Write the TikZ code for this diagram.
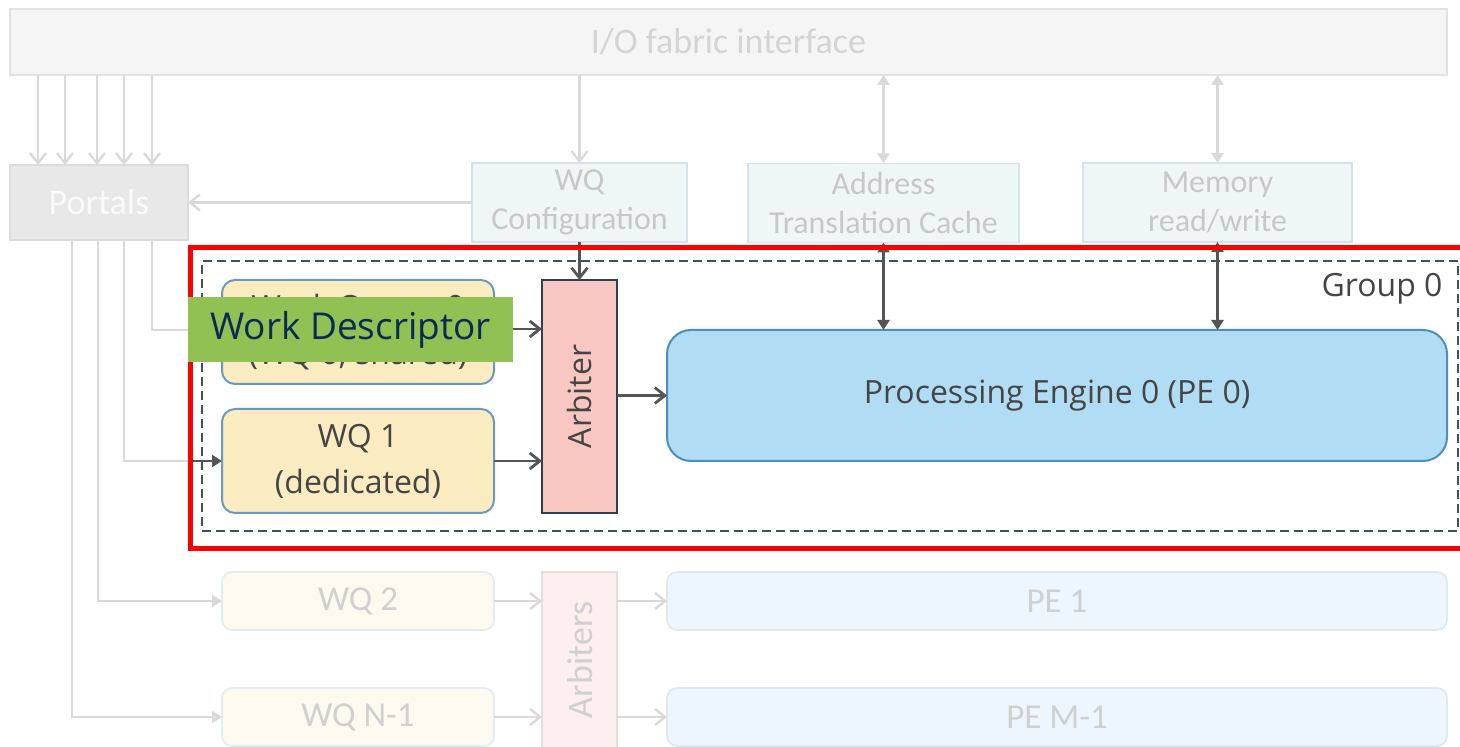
\documentclass[tikz,border=0pt]{standalone}
\usepackage{fontspec}
\setmainfont{Carlito}
\newfontfamily\osans{Open Sans}
\usetikzlibrary{arrows.meta,calc}

\definecolor{ioFill}{HTML}{F5F5F5}
\definecolor{ioLine}{HTML}{E2E2E2}
\definecolor{ioText}{HTML}{D4D4D4}
\definecolor{portFill}{HTML}{E8E8E8}
\definecolor{portLine}{HTML}{DCDCDC}
\definecolor{portText}{HTML}{FAFAFA}
\definecolor{cfgFill}{HTML}{EEF6F6}
\definecolor{cfgLine}{HTML}{D3E3E7}
\definecolor{cfgText}{HTML}{C8C8C8}
\definecolor{wqFill}{HTML}{FAEBC0}
\definecolor{wqLine}{HTML}{6A9AC4}
\definecolor{arbFill}{HTML}{F8C7C1}
\definecolor{arbLine}{HTML}{2F3F50}
\definecolor{peFill}{HTML}{B0DDF3}
\definecolor{peLine}{HTML}{4E8DC2}
\definecolor{darkText}{HTML}{454545}
\definecolor{darkArrow}{HTML}{555555}
\definecolor{lightArrow}{HTML}{D9D9D9}
\definecolor{grpLine}{HTML}{3E5061}
\definecolor{tagFill}{HTML}{92C153}
\definecolor{tagText}{HTML}{0B2A55}
\definecolor{fadeWQFill}{HTML}{FCF9EF}
\definecolor{fadeWQLine}{HTML}{E3ECF3}
\definecolor{fadeArbFill}{HTML}{FDEFEE}
\definecolor{fadeArbLine}{HTML}{E0E0E0}
\definecolor{fadePEFill}{HTML}{EDF6FC}
\definecolor{fadePELine}{HTML}{DDE8F0}
\definecolor{fadeText}{HTML}{D0D0D0}
\definecolor{hiRed}{HTML}{FF0000}

\begin{document}
\begin{tikzpicture}[x=0.5pt,y=-0.5pt,
  frame/.style={draw, inner sep=0pt, outer sep=0pt, align=center, line width=0.8pt},
  iobox/.style={frame, fill=ioFill, draw=ioLine, text=ioText,
    font=\fontsize{18}{22}\selectfont},
  portbox/.style={frame, fill=portFill, draw=portLine, text=portText,
    font=\fontsize{18}{22}\selectfont},
  cfgbox/.style={frame, fill=cfgFill, draw=cfgLine, text=cfgText,
    font=\fontsize{16}{19.5}\selectfont, minimum height=39.5pt},
  wqbox/.style={frame, fill=wqFill, draw=wqLine, line width=1pt, rounded corners=6.5pt,
    text=darkText, font=\osans\fontsize{16}{23}\selectfont,
    minimum width=136pt, minimum height=52pt},
  arbbox/.style={frame, fill=arbFill, draw=arbLine, line width=1pt},
  pebox/.style={frame, fill=peFill, draw=peLine, line width=1pt, rounded corners=12pt,
    text=darkText, font=\osans\fontsize{16}{20}\selectfont},
  fadewq/.style={frame, fill=fadeWQFill, draw=fadeWQLine, rounded corners=5pt,
    text=fadeText, font=\fontsize{17.5}{21}\selectfont,
    minimum width=136pt, minimum height=29pt},
  fadearb/.style={frame, fill=fadeArbFill, draw=fadeArbLine},
  fadepe/.style={frame, fill=fadePEFill, draw=fadePELine, rounded corners=5pt,
    text=fadeText, font=\fontsize{17.5}{21}\selectfont,
    minimum width=390pt, minimum height=29pt},
  grpbox/.style={draw=grpLine, line width=1pt, dash pattern=on 4.5pt off 2.5pt,
    inner sep=0pt, outer sep=0pt},
  hibox/.style={draw=hiRed, line width=2.5pt, inner sep=0pt, outer sep=0pt},
  tagbox/.style={fill=tagFill, inner sep=0pt, outer sep=0pt, text=tagText,
    font=\osans\fontsize{18.5}{22}\selectfont},
  lgline/.style={draw=lightArrow, line width=1.2pt},
  lgbarb/.style={lgline, -{Straight Barb[length=5pt,width=8pt]}},
  lgtri/.style={lgline, -{Triangle[length=5pt,width=6pt]}},
  lgboth/.style={lgline, {Triangle[length=5pt,width=6pt]}-{Triangle[length=5pt,width=6pt]}},
  dkbarb/.style={draw=darkArrow, line width=1.4pt, -{Straight Barb[length=5pt,width=8pt]}},
  dktri/.style={draw=darkArrow, line width=1.4pt, -{Triangle[length=5pt,width=6pt]}},
  dkboth/.style={draw=darkArrow, line width=1.4pt,
    {Triangle[length=5pt,width=6pt]}-{Triangle[length=5pt,width=6pt]}},
]
\useasboundingbox (0,0) rectangle (1460,747);

% top row
\node[iobox, minimum width=718.5pt, minimum height=33pt] (io) at (728.5,42) {I/O fabric interface};
\node[portbox, minimum width=89pt, minimum height=37.5pt] (portals) at (99,202.5) {Portals};
\node[cfgbox, minimum width=107.5pt] (cfg) at (579.5,202.5) {WQ\\Configuration};
\node[cfgbox, minimum width=135.5pt] (atc) at (883.5,203) {Address\\Translation Cache};
\node[cfgbox, minimum width=134.5pt] (mem) at (1217.5,202.5) {Memory\\read/write};

% x positions of the portal lanes
\coordinate (t1) at (38,0);
\coordinate (t2) at (65,0);
\coordinate (t3) at (97,0);
\coordinate (t4) at (124,0);
\coordinate (t5) at (152,0);
\coordinate (b1) at (72,0);
\coordinate (b2) at (98,0);
\coordinate (b3) at (124,0);
\coordinate (b4) at (152,0);

% group 0
\node[grpbox, minimum width=628pt, minimum height=135pt] (grp) at (830,396) {};
\node[text=darkText, font=\osans\fontsize{16}{20}\selectfont] (grplbl) at (1382,289) {Group 0};
\node[wqbox] (wq0) at (358,332) {Work Queue 0\\(WQ 0, shared)};
\node[wqbox] (wq1) at (358,461) {WQ 1\\(dedicated)};
\node[arbbox, minimum width=37.5pt, minimum height=116.5pt] (arb) at (579.5,396.5) {};
\node[rotate=90, text=darkText, font=\osans\fontsize{16}{20}\selectfont] (arblbl) at (arb.center) {Arbiter};
\node[pebox, minimum width=390pt, minimum height=65.5pt] (pe0) at (1057,395.5) {Processing Engine 0 (PE 0)};

% faded groups
\node[fadewq] (wq2) at (358,601) {WQ 2};
\node[fadewq] (wqn) at (358,717) {WQ N-1};
\node[fadearb, minimum width=37.5pt, minimum height=96.5pt] (arbs) at (579.5,668.5) {};
\node[rotate=90, text=fadeText, font=\fontsize{18}{21}\selectfont] (arbslbl) at (580,660) {Arbiters};
\node[fadepe] (pe1) at (1057,601) {PE 1};
\node[fadepe] (pem) at (1057,717) {PE M-1};

% fabric to portals and control blocks
\foreach \t in {t1,t2,t3,t4,t5}
  \draw[lgbarb] (io.south -| \t) -- (portals.north -| \t);
\draw[lgbarb] (io.south -| cfg.north) -- (cfg.north);
\draw[lgboth] (io.south -| atc.north) -- (atc.north);
\draw[lgboth] (io.south -| mem.north) -- (mem.north);
\draw[lgbarb] (cfg.west) -- (portals.east);

% portals to work queues
\coordinate (j0) at ($(wq0.west)+(0,-2)$);
\draw[lgtri] (portals.south -| b4) |- (j0);
\coordinate (j1) at ($(wq1.west)+(-29,0)$);
\draw[lightArrow, line width=1.2pt] (portals.south -| b3) |- (j1);
\draw[dktri] (j1) -- (wq1.west);
\draw[lgtri] (portals.south -| b2) |- (wq2.west);
\draw[lgtri] (portals.south -| b1) |- (wqn.west);

% group 0 connections
\draw[dkbarb] (cfg.south) -- (arb.north -| cfg.south);
\draw[dkboth] (atc.south) -- (pe0.north -| atc.south);
\draw[dkboth] (mem.south) -- (pe0.north -| mem.south);
\coordinate (w0) at ($(wq0.east)+(0,-3)$);
\draw[dkbarb] (w0) -- (arb.west |- w0);
\draw[dkbarb] (wq1.east) -- (arb.west |- wq1.east);
\draw[dkbarb] (arb.east |- pe0.west) -- (pe0.west);

% faded connections
\draw[lgbarb] (wq2.east) -- (arbs.west |- wq2.east);
\draw[lgbarb] (arbs.east |- pe1.west) -- (pe1.west);
\draw[lgbarb] (wqn.east) -- (arbs.west |- wqn.east);
\draw[lgbarb] (arbs.east |- pem.west) -- (pem.west);

% highlight frame and tag
\node[hibox, minimum width=650pt, minimum height=150.5pt] (hi) at (840,398) {};
\node[tagbox, minimum width=162.5pt, minimum height=32.5pt] (tag) at (350.5,329.5) {Work Descriptor};
\end{tikzpicture}
\end{document}
